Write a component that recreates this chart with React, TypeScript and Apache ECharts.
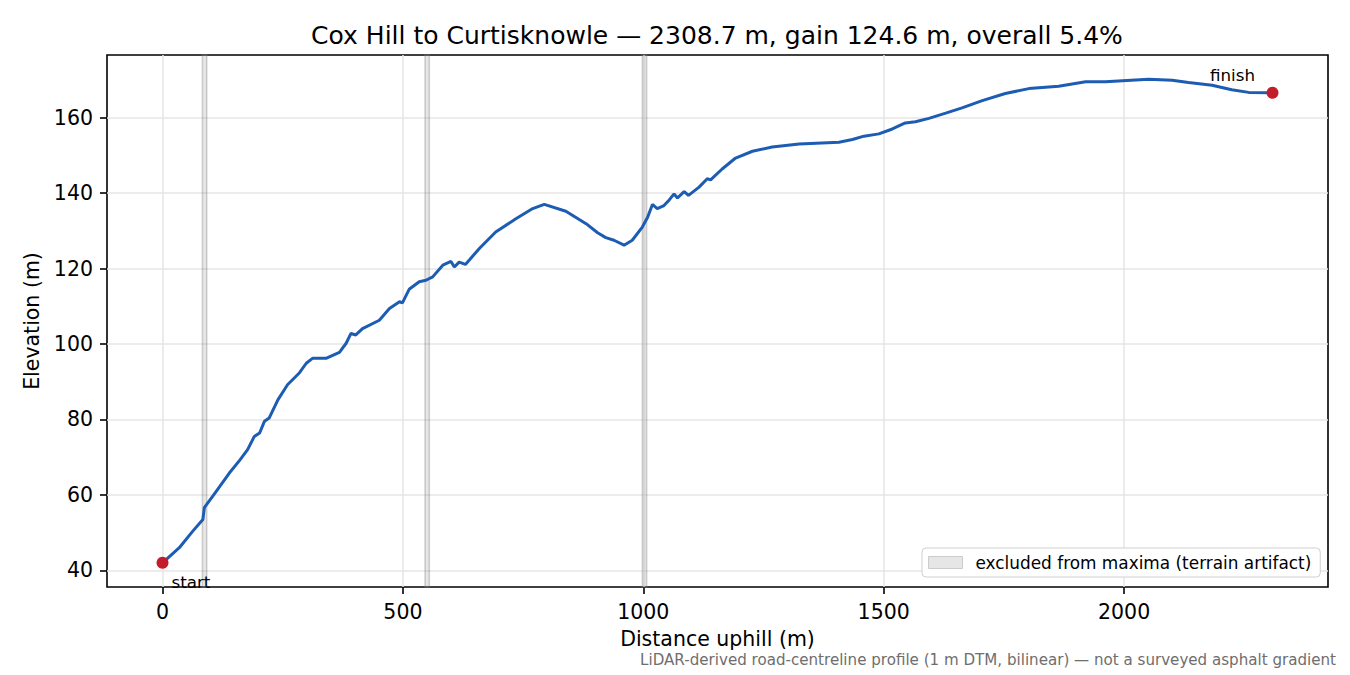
import { useEffect, useRef } from 'react';
import * as echarts from 'echarts';

// distance along the road (m) and LiDAR elevation (m)
const distance = [
  0, 35, 63, 84, 87, 108, 139, 160, 177, 191, 202, 212, 222, 240, 260, 285, 299, 312, 340, 368,
  382, 392, 402, 416, 451, 472, 493, 499, 513, 534, 548, 562, 583, 600, 607, 617, 630, 659, 693,
  735, 770, 794, 839, 881, 905, 922, 939, 960, 977, 998, 1009, 1019, 1029, 1043, 1054, 1064, 1071,
  1085, 1094, 1116, 1133, 1140, 1164, 1192, 1227, 1268, 1324, 1407, 1435, 1459, 1490, 1518, 1545,
  1566, 1594, 1629, 1663, 1705, 1753, 1802, 1864, 1920, 1961, 2051, 2100, 2134, 2183, 2224, 2259,
  2308.7,
];
const elevation = [
  42.0, 46.0, 50.4, 53.5, 56.6, 60.3, 65.8, 69.1, 72.0, 75.5, 76.4, 79.5, 80.4, 85.2, 89.2, 92.4,
  94.9, 96.2, 96.2, 97.8, 100.2, 102.8, 102.4, 104.1, 106.3, 109.4, 111.2, 110.9, 114.5, 116.5,
  116.9, 117.8, 120.9, 121.9, 120.4, 121.7, 121.1, 125.3, 129.7, 133.2, 135.9, 137.0, 135.2, 131.9,
  129.5, 128.2, 127.5, 126.2, 127.5, 131.0, 133.6, 137.0, 135.9, 136.7, 138.2, 139.8, 138.7, 140.4,
  139.4, 141.6, 143.8, 143.5, 146.4, 149.3, 151.1, 152.2, 153.0, 153.5, 154.2, 155.1, 155.7, 157.0,
  158.6, 158.9, 159.8, 161.2, 162.6, 164.5, 166.4, 167.7, 168.3, 169.5, 169.5, 170.2, 169.9, 169.3,
  168.6, 167.4, 166.7, 166.6,
];
// stretches left out of the maxima search (start, end in m)
const excludedBands = [
  [83, 92],
  [546, 555],
  [998, 1007],
];
const xTicks = [0, 500, 1000, 1500, 2000];
const yTicks = [40, 60, 80, 100, 120, 140, 160];
const endpoints = [
  { name: 'start', value: [0, 42.0] },
  { name: 'finish', value: [2308.7, 166.6] },
];

const FONT = 'DejaVu Sans';
const BAND_NAME = 'excluded from maxima (terrain artifact)';

export default function App() {
  const ref = useRef<HTMLDivElement>(null);

  useEffect(() => {
    if (!ref.current) return;
    const chart = echarts.init(ref.current, null, { renderer: 'svg' });

    // matplotlib-style 5% margins round the data
    const xSpan = distance[distance.length - 1] - distance[0];
    const yMin = Math.min(...elevation), yMax = Math.max(...elevation);
    const ySpan = yMax - yMin;

    const axisCommon = {
      axisLine: { show: false, onZero: false },
      axisTick: { show: true, inside: false, length: 7, lineStyle: { color: '#000', width: 1.6 } },
      axisLabel: {
        color: '#000',
        fontFamily: FONT,
        fontSize: 20.5,
        margin: 14,
        formatter: (v: number) => String(v),
      },
      splitLine: { show: true, lineStyle: { color: '#e6e6e6', width: 1.5 } },
      nameTextStyle: { color: '#000', fontFamily: FONT, fontSize: 20.5 },
    };

    const endLabel = (align: string, offset: number[]) => ({
      show: true,
      formatter: '{b}',
      position: 'inside',
      align,
      verticalAlign: 'middle',
      offset,
      color: '#000',
      opacity: 1,
      fontFamily: FONT,
      fontSize: 16.7,
    });

    chart.setOption({
      animation: false,
      textStyle: { fontFamily: FONT },
      title: [
        {
          text: 'Cox Hill to Curtisknowle — 2308.7 m, gain 124.6 m, overall 5.4%',
          left: 712,
          top: 18,
          textAlign: 'center',
          textStyle: { fontFamily: FONT, fontSize: 25, fontWeight: 'normal', color: '#000' },
        },
        {
          text: 'LiDAR-derived road-centreline profile (1 m DTM, bilinear) — not a surveyed asphalt gradient',
          right: 14,
          top: 652,
          padding: 0,
          textStyle: { fontFamily: FONT, fontSize: 15.1, fontWeight: 'normal', color: '#6e6e6e' },
        },
      ],
      grid: {
        left: 107,
        right: 22,
        top: 55,
        bottom: 88,
        show: true,
        borderColor: '#000',
        borderWidth: 1.6,
        backgroundColor: 'transparent',
      },
      legend: {
        data: [
          {
            name: BAND_NAME,
            icon: 'rect',
            itemStyle: { color: '#e6e6e6', borderColor: '#cccccc', borderWidth: 1 },
          },
        ],
        left: 922,
        top: 548,
        padding: [6, 9, 6, 6],
        itemWidth: 34,
        itemHeight: 12,
        selectedMode: false,
        backgroundColor: '#fff',
        borderColor: '#d0d0d0',
        borderWidth: 1,
        borderRadius: 4,
        textStyle: { fontFamily: FONT, fontSize: 16.9, color: '#000', padding: [0, 0, 0, 8] },
      },
      xAxis: {
        type: 'value',
        min: distance[0] - xSpan * 0.05,
        max: distance[distance.length - 1] + xSpan * 0.05,
        name: 'Distance uphill (m)',
        nameLocation: 'middle',
        nameGap: 41,
        ...axisCommon,
        axisTick: { ...axisCommon.axisTick, customValues: xTicks },
        axisLabel: { ...axisCommon.axisLabel, customValues: xTicks },
      },
      yAxis: {
        type: 'value',
        min: yMin - ySpan * 0.05,
        max: yMax + ySpan * 0.05,
        name: 'Elevation (m)',
        nameLocation: 'middle',
        nameGap: 63,
        ...axisCommon,
        axisTick: { ...axisCommon.axisTick, customValues: yTicks },
        axisLabel: { ...axisCommon.axisLabel, customValues: yTicks },
      },
      series: [
        {
          name: BAND_NAME,
          type: 'line',
          data: [],
          itemStyle: { color: '#e6e6e6' },
        },
        {
          name: 'elevation',
          type: 'line',
          data: distance.map((d, i) => [d, elevation[i]]),
          showSymbol: false,
          lineStyle: { color: '#1c5cb3', width: 3 },
          itemStyle: { color: '#1c5cb3' },
          z: 3,
          markArea: {
            silent: true,
            itemStyle: {
              color: 'rgba(128,128,128,0.2)',
              borderColor: 'rgba(128,128,128,0.35)',
              borderWidth: 1.5,
            },
            data: excludedBands.map(([a, b]) => [{ xAxis: a }, { xAxis: b }]),
          },
        },
        {
          name: 'endpoints',
          type: 'scatter',
          symbolSize: 12,
          itemStyle: { color: '#c21d2a', opacity: 1 },
          z: 4,
          data: [
            { ...endpoints[0], label: endLabel('left', [9, 19]) },
            { ...endpoints[1], label: endLabel('center', [-40, -18]) },
          ],
        },
      ],
    });

    return () => chart.dispose();
  }, []);

  return <div ref={ref} style={{ position: 'absolute', left: 0, top: 0, width: 1350, height: 675 }} />;
}
